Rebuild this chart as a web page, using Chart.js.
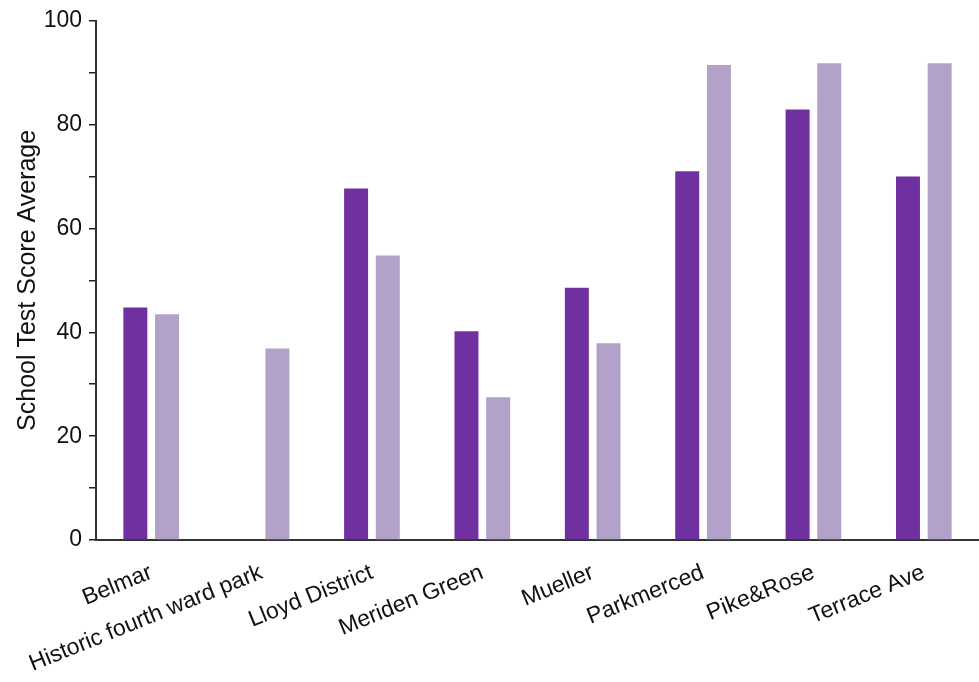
<!DOCTYPE html>
<html>
<head>
<meta charset="utf-8">
<script src="https://cdn.jsdelivr.net/npm/chart.js@4/dist/chart.umd.min.js"></script>
<style>
  html, body { margin: 0; padding: 0; background: #ffffff; }
  #wrap { width: 979px; height: 682px; position: relative; }
</style>
</head>
<body>
<div id="wrap"><canvas id="chart"></canvas></div>
<script>
// Neighbourhood names along the x axis
const neighborhoods = [
  'Belmar',
  'Historic fourth ward park',
  'Lloyd District',
  'Meriden Green',
  'Mueller',
  'Parkmerced',
  'Pike&Rose',
  'Terrace Ave'
];

// Average school test scores, two series per neighbourhood
const scoresDark = [44.8, null, 67.7, 40.2, 48.6, 71.0, 82.9, 70.0];
const scoresLight = [43.5, 36.9, 54.8, 27.5, 37.9, 91.5, 91.8, 91.8];

const yTickValues = [0, 20, 40, 60, 80, 100];

const FONT = '"Liberation Sans", Arial, Helvetica, sans-serif';

new Chart(document.getElementById('chart'), {
  type: 'bar',
  data: {
    labels: neighborhoods,
    datasets: [
      {
        data: scoresDark,
        backgroundColor: '#7030a0',
        categoryPercentage: 0.574,
        barPercentage: 0.757
      },
      {
        data: scoresLight,
        backgroundColor: '#b2a1c8',
        categoryPercentage: 0.574,
        barPercentage: 0.757
      }
    ]
  },
  options: {
    responsive: true,
    maintainAspectRatio: false,
    animation: false,
    layout: { padding: { top: 20, right: 0, left: 0, bottom: 0 } },
    plugins: {
      legend: { display: false },
      tooltip: { enabled: false }
    },
    scales: {
      x: {
        grid: { display: false, drawTicks: false },
        border: { display: true, color: '#333333', width: 2 },
        ticks: {
          color: '#111111',
          font: { family: FONT, size: 23 },
          maxRotation: 22,
          minRotation: 22,
          autoSkip: false,
          padding: 19
        },
        afterFit: (scale) => { scale.height = 142; }
      },
      y: {
        min: 0,
        max: 100,
        grid: {
          display: true,
          drawOnChartArea: false,
          drawTicks: true,
          tickLength: 7,
          color: '#222222',
          lineWidth: 1.5
        },
        border: { display: true, color: '#333333', width: 2 },
        ticks: {
          stepSize: 10,
          color: '#111111',
          font: { family: FONT, size: 23 },
          padding: 7,
          callback: (v) => (yTickValues.includes(v) ? String(v) : '')
        },
        title: {
          display: true,
          text: 'School Test Score Average',
          color: '#111111',
          font: { family: FONT, size: 25 },
          padding: { top: 13, bottom: 0 }
        },
        afterFit: (scale) => { scale.width = 96; }
      }
    }
  }
});
</script>
</body>
</html>
